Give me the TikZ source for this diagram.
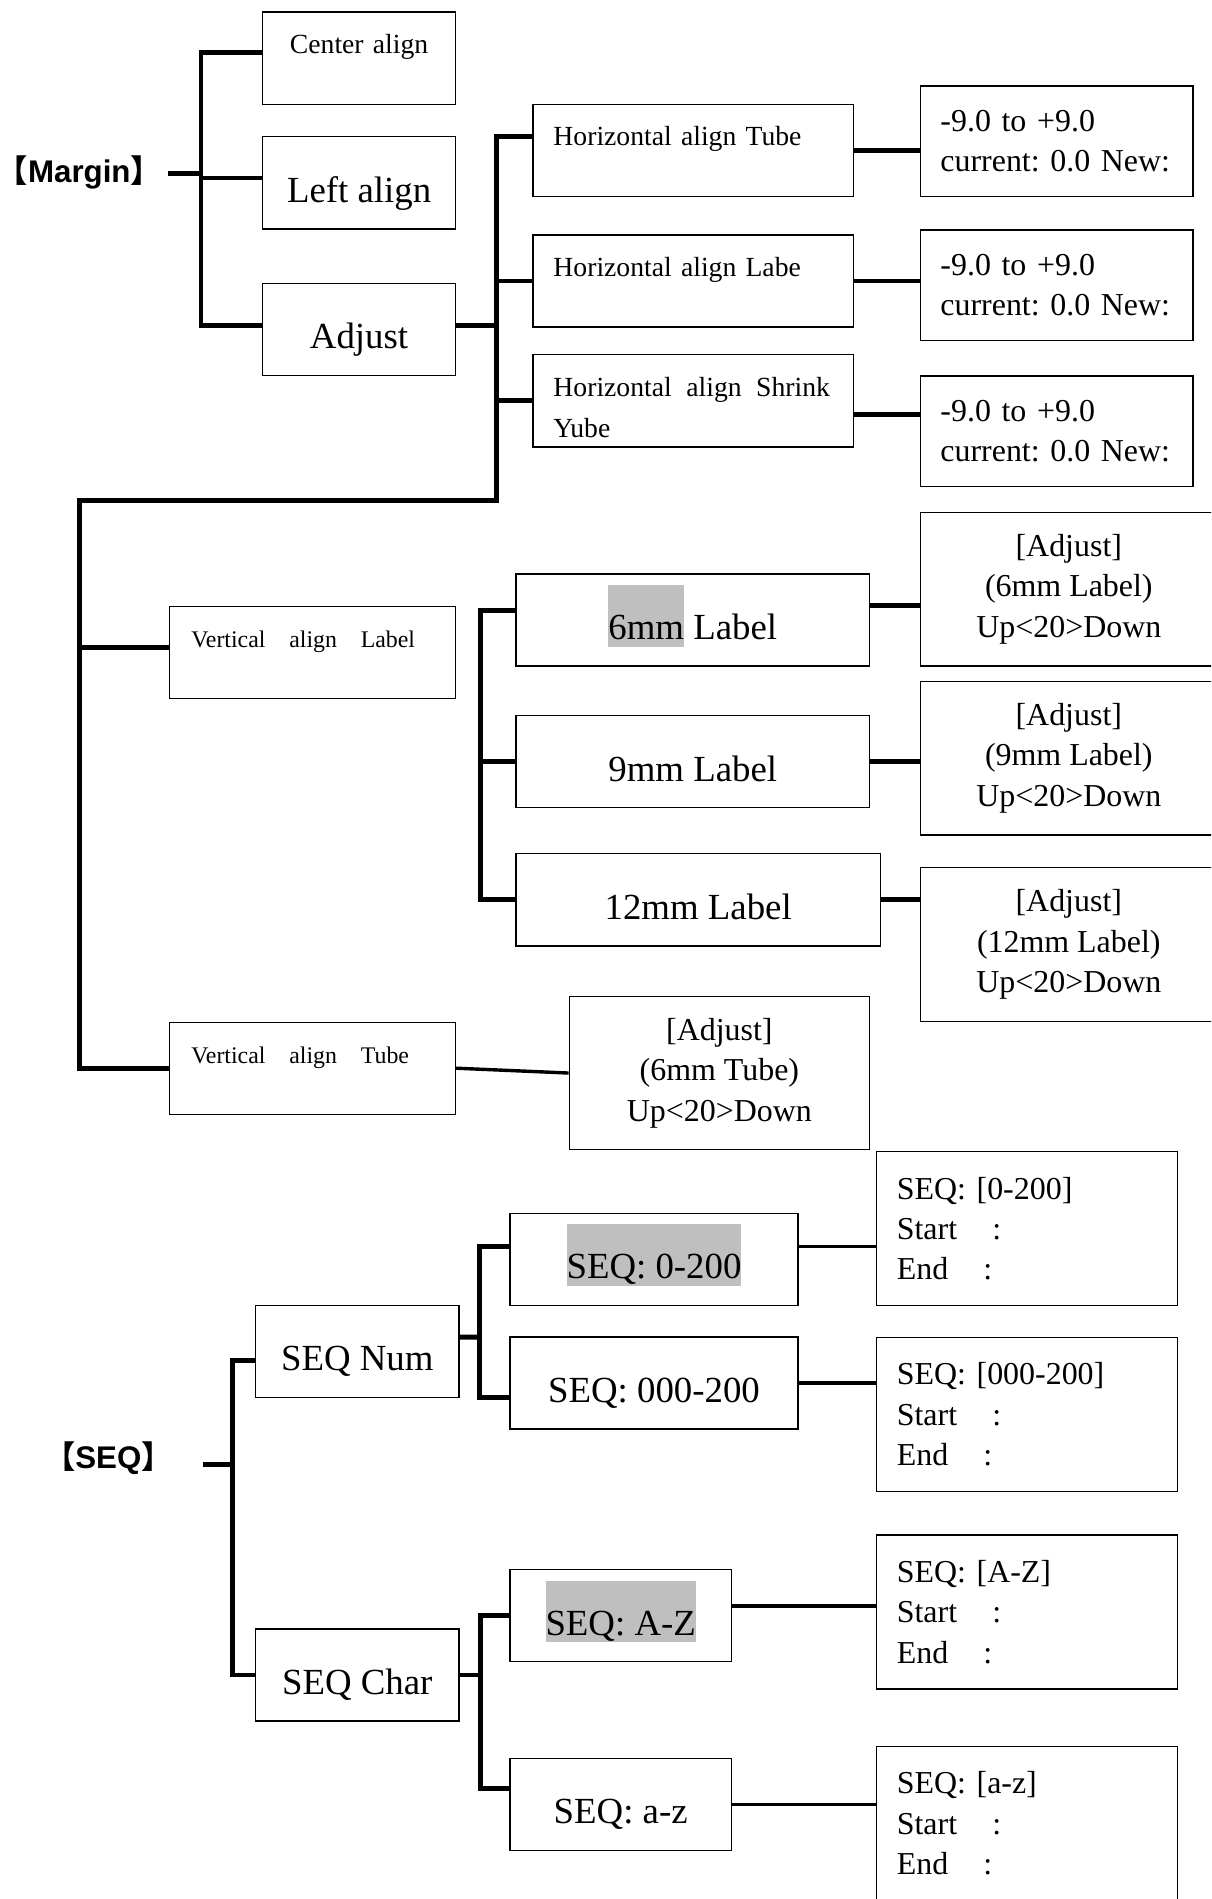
\documentclass[tikz,border=0pt]{standalone}
\usepackage{fontspec}
\setmainfont{Liberation Serif}
\newfontfamily\headfont{Liberation Sans}
\newfontfamily\cjk{Noto Sans CJK SC}
\usepackage{tikz}
\usetikzlibrary{positioning,calc}
\frenchspacing
\definecolor{hlgray}{HTML}{BFBFBF}
\newcommand{\hl}[1]{{\setlength{\fboxsep}{0pt}\colorbox{hlgray}{\rule[-1.2mm]{0pt}{10.2mm}#1}}}
\tikzset{
	box/.style={draw, line width=0.6pt, rectangle, inner sep=0pt, align=center},
	bigbox/.style={box, font={\fontsize{17.3}{20}\selectfont}, text height=6.4mm, text depth=0pt, minimum height=15.2mm},
	topbox/.style={box, align=left, font={\fontsize{13}{19.3}\selectfont}, inner xsep=3.4mm, text height=6.8mm, text depth=8.4mm},
	listbox/.style={box, align=left, font={\fontsize{15}{19}\selectfont}, inner xsep=3.3mm},
	adjbox/.style={box, font={\fontsize{15}{19}\selectfont}, minimum width=49mm, minimum height=25.4mm},
	branch/.style={line width=2.3pt},
	link/.style={line width=1.6pt},
	head/.style={font={\headfont\bfseries\fontsize{14.7}{17}\selectfont}, inner sep=1mm}
}

\begin{document}
\begin{tikzpicture}[x=0.2mm, y=-0.2mm]
	\useasboundingbox (0,0) rectangle (1000,1568);
	\clip (0,0) rectangle (1000,1568);
	
	%% -- Margin
	\node[head] (margin) at (65.5,142) {{\cjk 【}Margin{\cjk 】}};
	\node[topbox, align=center, text width=25mm] (cen) at (296.5,48) {Center align};
	\node[bigbox, minimum width=31.8mm] (left) at (296.5,151) {Left align};
	\node[bigbox, minimum width=31.8mm] (adjust) at (296.5,272) {Adjust};
	
	\coordinate (mbar) at (166,143);
	\draw[branch] (margin.east |- mbar) -- (mbar);
	\draw[branch] ([yshift=1mm]cen.west) -| (mbar) |- ([yshift=0.6mm]adjust.west);
	\draw[branch] ([yshift=0.8mm]left.west) -- ([yshift=0.8mm]left.west -| mbar);
	
	%% -- Horizontal align
	\node[topbox, text width=46.2mm] (htube) at (572.5,124.5) {Horizontal align Tube};
	\node[topbox, text width=46.2mm] (hlabe) at (572.5,232) {Horizontal align Labe};
	\node[topbox, text width=46.2mm] (hshrink) at (572.5,331)
	{Horizontal\hspace{2.4mm}align\hspace{2.4mm}Shrink\\Yube};
	
	\node[listbox, text width=38.4mm, minimum height=18.2mm] (val1) at (872.5,116.5) {-9.0 to +9.0\\current: 0.0 New:};
	\node[listbox, text width=38.4mm, minimum height=18.2mm] (val2) at (872.5,235.5) {-9.0 to +9.0\\current: 0.0 New:};
	\node[listbox, text width=38.4mm, minimum height=18.2mm] (val3) at (872.5,356) {-9.0 to +9.0\\current: 0.0 New:};
	
	\coordinate (hbar) at (410,268);
	\coordinate (vtop) at (66,413);
	\draw[branch] ([yshift=0.6mm]adjust.east) -- ([yshift=0.6mm]adjust.east -| hbar);
	\draw[branch] (hlabe.west) -- (hlabe.west -| hbar);
	\draw[branch] (hshrink.west) -- (hshrink.west -| hbar);
	
	\draw[branch] (htube.east) -- (htube.east -| val1.west);
	\draw[branch] (hlabe.east) -- (hlabe.east -| val2.west);
	\draw[branch] ([yshift=-2.2mm]hshrink.east) -- ([yshift=-2.2mm]hshrink.east -| val3.west);
	
	%% -- Vertical align
	\node[topbox, text width=40mm, inner xsep=3.6mm, font={\fontsize{11.2}{14}\selectfont}] (vlabel) at (258,539) {Vertical\quad align\quad Label};
	\node[topbox, text width=40mm, inner xsep=3.6mm, font={\fontsize{11.2}{14}\selectfont}] (vtube) at (258,882) {Vertical\quad align\quad Tube};
	\draw[branch] ([yshift=2.3mm]htube.west) -| (hbar) -- (hbar |- vtop) -- (vtop) |- (vtube.west);
	\draw[branch] ([yshift=0.8mm]vlabel.west) -- ([yshift=0.8mm]vlabel.west -| vtop);
	
	\node[bigbox, minimum width=58.4mm] (six) at (572,512) {\hl{6mm} Label};
	\node[bigbox, minimum width=58.4mm] (nine) at (572,629) {9mm Label};
	\node[bigbox, minimum width=60.2mm] (twelve) at (576.5,743) {12mm Label};
	
	\node[adjbox] (adj6) at (882.5,486.5) {[Adjust]\\(6mm Label)\\Up<20>Down};
	\node[adjbox] (adj9) at (882.5,626) {[Adjust]\\(9mm Label)\\Up<20>Down};
	\node[adjbox] (adj12) at (882.5,780) {[Adjust]\\(12mm Label)\\Up<20>Down};
	\node[adjbox, minimum width=49.6mm, minimum height=25.2mm] (adjtube) at (594,886) {[Adjust]\\(6mm Tube)\\Up<20>Down};
	
	\coordinate (lbar) at (397,743);
	\draw[branch] ([yshift=1.6mm]six.west) -| (lbar) -- (twelve.west);
	\draw[branch] (nine.west) -- (nine.west -| lbar);
	\draw[branch] ([yshift=2.4mm]six.east) -- ([yshift=2.4mm]six.east -| adj6.west);
	\draw[branch] (nine.east) -- (nine.east -| adj9.west);
	\draw[branch] (twelve.east) -- (twelve.east -| adj12.west);
	\draw[link] (vtube.east) -- (adjtube.west);
	
	%% -- SEQ
	\node[head] (seq) at (89.5,1204) {{\cjk 【}SEQ{\cjk 】}};
	\node[bigbox, minimum width=33.6mm] (seqnum) at (295,1116) {SEQ Num};
	\node[bigbox, minimum width=33.6mm] (seqchar) at (295,1383) {SEQ Char};
	
	\coordinate (sbar) at (192,1209);
	\draw[branch] ([xshift=4mm]seq.east |- sbar) -- (sbar);
	\draw[branch] ([yshift=-1.4mm]seqnum.west) -| (sbar) |- (seqchar.west);
	
	\node[bigbox, minimum width=47.6mm] (s0) at (540,1040) {\hl{SEQ: 0-200}};
	\node[bigbox, minimum width=47.6mm] (s000) at (540,1142) {SEQ: 000-200};
	\node[bigbox, minimum width=36.6mm] (saz) at (512.5,1334) {\hl{SEQ: A-Z}};
	\node[bigbox, minimum width=36.6mm] (slaz) at (512.5,1490) {SEQ: a-z};
	
	\coordinate (nbar) at (396,1104);
	\coordinate (cbar) at (397,1383);
	\draw[branch] ([yshift=2.4mm]seqnum.east) -- (nbar);
	\draw[branch] ([yshift=2.2mm]s0.west) -| (nbar) |- ([yshift=-2.4mm]s000.west);
	\draw[branch] (seqchar.east) -- (cbar);
	\draw[branch] (saz.west) -| (cbar) |- ([yshift=2.6mm]slaz.west);
	
	\node[listbox, text width=43mm, minimum height=25.4mm] (res1) at (848,1014.5) {SEQ: [0-200]\\Start\hspace{5.8mm}:\\End\hspace{5.8mm}:};
	\node[listbox, text width=43mm, minimum height=25.4mm] (res2) at (848,1168) {SEQ: [000-200]\\Start\hspace{5.8mm}:\\End\hspace{5.8mm}:};
	\node[listbox, text width=43mm, minimum height=25.4mm] (res3) at (848,1331) {SEQ: [A-Z]\\Start\hspace{5.8mm}:\\End\hspace{5.8mm}:};
	\node[listbox, text width=43mm, minimum height=25.4mm] (res4) at (848,1505.5) {SEQ: [a-z]\\Start\hspace{5.8mm}:\\End\hspace{5.8mm}:};
	
	\draw[link] ([yshift=2.2mm]s0.east) -- ([yshift=2.2mm]s0.east -| res1.west);
	\draw[link] (s000.east) -- (s000.east -| res2.west);
	\draw[link] ([yshift=1.6mm]saz.east) -- ([yshift=1.6mm]saz.east -| res3.west);
	\draw[link] (slaz.east) -- (slaz.east -| res4.west);
\end{tikzpicture}
\end{document}
